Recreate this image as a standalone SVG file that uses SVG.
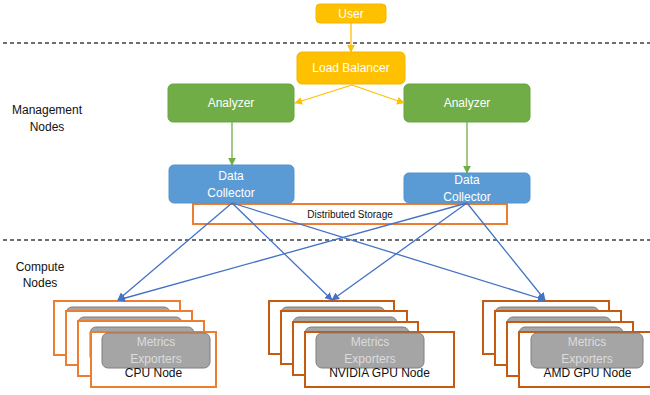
<svg xmlns="http://www.w3.org/2000/svg" width="650" height="395" viewBox="0 0 650 395">
<style>
text{font-family:"Liberation Sans",Arial,sans-serif;font-size:12px;text-anchor:middle}
.w{fill:#fff}
.k{fill:#111}
.yl{fill:#FFC000;stroke:#F2B700;stroke-width:1}
.gr{fill:#70AD47;stroke:#6AA343;stroke-width:1}
.bl{fill:#5B9BD5;stroke:#5593CB;stroke-width:1}
.cpu{fill:#fff;stroke:#ED7D31;stroke-width:2}
.gpu{fill:#fff;stroke:#C55A11;stroke-width:2}
.ex{fill:#A5A5A5;stroke:#7F7F7F;stroke-width:1}
.et{fill:#DCDCDC}
.dash{stroke:#404040;stroke-width:1.3;stroke-dasharray:4 3;fill:none}
.cy{stroke:#FFC000;stroke-width:1.3;fill:none}
.cg{stroke:#70AD47;stroke-width:1.3;fill:none}
.cb{stroke:#4472C4;stroke-width:1.3;fill:none}
</style>
<defs>
<marker id="ay" viewBox="0 0 10 10" refX="9" refY="5" markerWidth="6" markerHeight="6" orient="auto"><path d="M0,0 L10,5 L0,10 z" fill="#FFC000"/></marker>
<marker id="ag" viewBox="0 0 10 10" refX="9" refY="5" markerWidth="6" markerHeight="6" orient="auto"><path d="M0,0 L10,5 L0,10 z" fill="#70AD47"/></marker>
<marker id="ab" viewBox="0 0 10 10" refX="9" refY="5" markerWidth="6" markerHeight="6" orient="auto"><path d="M0,0 L10,5 L0,10 z" fill="#4472C4"/></marker>
</defs>

<g id="dividers">
<line class="dash" x1="3" y1="43" x2="650" y2="43"/>
<line class="dash" x1="3" y1="240" x2="650" y2="240"/>
</g>

<g id="label-management">
<text x="47" y="114" class="k">Management</text>
<text x="47" y="131" class="k">Nodes</text>
</g>
<g id="label-compute">
<text x="40" y="271" class="k">Compute</text>
<text x="40" y="287" class="k">Nodes</text>
</g>

<g id="user">
<rect class="yl" x="316" y="4" width="70" height="19" rx="4"/>
<text x="351" y="18" class="w">User</text>
</g>
<g id="load-balancer">
<rect class="yl" x="297" y="52" width="108" height="32" rx="5"/>
<text x="351" y="72" class="w">Load Balancer</text>
</g>
<g id="analyzer-left">
<rect class="gr" x="168" y="84" width="126" height="38" rx="5"/>
<text x="231" y="107" class="w">Analyzer</text>
</g>
<g id="analyzer-right">
<rect class="gr" x="404" y="84" width="126" height="38" rx="5"/>
<text x="467" y="107" class="w">Analyzer</text>
</g>
<g id="distributed-storage">
<rect x="193" y="204" width="314" height="20" fill="#fff" stroke="#ED7D31" stroke-width="2"/>
<text x="350" y="217.5" class="k" style="font-size:10px">Distributed Storage</text>
</g>
<g id="collector-left">
<rect class="bl" x="169" y="165" width="125" height="38" rx="5"/>
<text x="231" y="180" class="w">Data</text>
<text x="231" y="197" class="w">Collector</text>
</g>
<g id="collector-right">
<rect class="bl" x="404" y="173" width="126" height="30" rx="5"/>
<text x="467" y="184" class="w">Data</text>
<text x="467" y="201" class="w">Collector</text>
</g>

<g id="cpu-node">
<rect class="cpu" x="54" y="301" width="126" height="54"/>
<rect class="ex" x="66" y="307" width="104" height="35" rx="6"/>
<rect class="cpu" x="66" y="311" width="126" height="54"/>
<rect class="ex" x="78" y="317" width="104" height="35" rx="6"/>
<rect class="cpu" x="78" y="321" width="126" height="55"/>
<rect class="ex" x="90" y="327" width="104" height="35" rx="6"/>
<rect class="cpu" x="91" y="332" width="125" height="55"/>
<rect class="ex" x="102" y="333" width="108" height="35" rx="6"/>
<text x="156" y="346" class="et">Metrics</text>
<text x="156" y="363" class="et">Exporters</text>
<text x="153.5" y="377" class="k">CPU Node</text>
</g>

<g id="nvidia-gpu-node">
<rect class="gpu" x="269" y="301" width="125" height="53"/>
<rect class="ex" x="281" y="307" width="104" height="35" rx="6"/>
<rect class="gpu" x="281" y="311" width="126" height="53"/>
<rect class="ex" x="293" y="317" width="104" height="35" rx="6"/>
<rect class="gpu" x="293" y="322" width="125" height="53"/>
<rect class="ex" x="305" y="327" width="104" height="35" rx="6"/>
<rect class="gpu" x="305" y="332" width="149" height="55"/>
<rect class="ex" x="316" y="333" width="108" height="35" rx="6"/>
<text x="370" y="346" class="et">Metrics</text>
<text x="370" y="363" class="et">Exporters</text>
<text x="379.5" y="377" class="k">NVIDIA GPU Node</text>
</g>

<g id="amd-gpu-node">
<rect class="gpu" x="483" y="301" width="126" height="53"/>
<rect class="ex" x="495" y="307" width="104" height="35" rx="6"/>
<rect class="gpu" x="495" y="311" width="126" height="54"/>
<rect class="ex" x="507" y="317" width="104" height="35" rx="6"/>
<rect class="gpu" x="507" y="322" width="126" height="54"/>
<rect class="ex" x="519" y="327" width="104" height="35" rx="6"/>
<rect class="gpu" x="519" y="332" width="134" height="55"/>
<rect class="ex" x="531" y="333" width="112" height="35" rx="6"/>
<text x="587" y="346" class="et">Metrics</text>
<text x="587" y="363" class="et">Exporters</text>
<text x="587.5" y="377" class="k">AMD GPU Node</text>
</g>

<g id="connectors">
<line class="cy" x1="351" y1="23" x2="351" y2="52" marker-end="url(#ay)"/>
<line class="cy" x1="352" y1="85" x2="295" y2="103" marker-end="url(#ay)"/>
<line class="cy" x1="352" y1="85" x2="404" y2="103" marker-end="url(#ay)"/>
<line class="cg" x1="232" y1="122" x2="232" y2="165" marker-end="url(#ag)"/>
<line class="cg" x1="467" y1="122" x2="467" y2="173" marker-end="url(#ag)"/>
<line class="cb" x1="232" y1="203" x2="118" y2="300" marker-end="url(#ab)"/>
<line class="cb" x1="232" y1="203" x2="332" y2="300" marker-end="url(#ab)"/>
<line class="cb" x1="232" y1="203" x2="545" y2="300" marker-end="url(#ab)"/>
<line class="cb" x1="467" y1="203" x2="118" y2="300" marker-end="url(#ab)"/>
<line class="cb" x1="467" y1="203" x2="332" y2="300" marker-end="url(#ab)"/>
<line class="cb" x1="467" y1="203" x2="545" y2="300" marker-end="url(#ab)"/>
</g>
</svg>
